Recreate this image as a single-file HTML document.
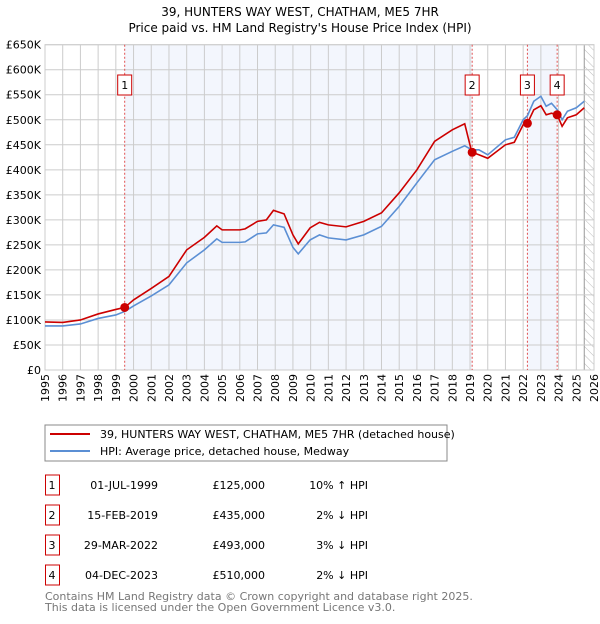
<!DOCTYPE html>
<html><head><meta charset="utf-8"><style>
body{margin:0;background:#fff;font-family:"DejaVu Sans","Liberation Sans",sans-serif;}
svg text{font-family:"DejaVu Sans","Liberation Sans",sans-serif;}
</style></head><body>
<svg id="c" width="600" height="620" xmlns="http://www.w3.org/2000/svg">
<text x="300" y="16" font-size="12" text-anchor="middle">39, HUNTERS WAY WEST, CHATHAM, ME5 7HR</text>
<text x="300" y="32" font-size="12" text-anchor="middle">Price paid vs. HM Land Registry's House Price Index (HPI)</text>
<defs><pattern id="hatch" width="6" height="6" patternUnits="userSpaceOnUse" patternTransform="rotate(-45)"><line x1="0" y1="0" x2="0" y2="6" stroke="#bbb" stroke-width="1"/></pattern></defs>
<g id="plot"></g>
<rect x="45" y="425" width="402" height="36" fill="#fff" stroke="#888"/>
<line x1="50" y1="434" x2="90" y2="434" stroke="#cc0000" stroke-width="2"/>
<text x="100" y="438" font-size="11">39, HUNTERS WAY WEST, CHATHAM, ME5 7HR (detached house)</text>
<line x1="50" y1="451" x2="90" y2="451" stroke="#5b8fd4" stroke-width="2"/>
<text x="100" y="455" font-size="11">HPI: Average price, detached house, Medway</text>
<g id="table" font-size="11"></g>
<text x="45" y="600" font-size="11" fill="#777">Contains HM Land Registry data © Crown copyright and database right 2025.</text>
<text x="45" y="611" font-size="11" fill="#777">This data is licensed under the Open Government Licence v3.0.</text>
</svg>
<script>
const years=[1995,1996,1997,1998,1999,1999.5,2000,2001,2002,2003,2004,2004.7,2005,2006,2006.3,2007,2007.5,2007.9,2008.5,2009,2009.3,2009.97,2010.5,2011,2012,2013,2014,2015,2016,2017,2018,2018.7,2019.1,2019.5,2020,2021,2021.5,2022,2022.24,2022.6,2023,2023.3,2023.6,2023.92,2024.2,2024.5,2025,2025.45];
const hpi=[88,88,92,103,110,117,128,148,170,214,240,262,255,255,256,272,274,290,285,245,232,260,270,264,260,270,287,327,374,420,437,448,440,440,430,460,465,500,508,537,547,527,533,520,500,517,524,537];
const price=[96,95,100,112,121,125,140,163,187,240,265,288,280,280,282,297,300,319,312,270,252,284,295,290,286,297,314,354,400,457,480,492,435,430,423,450,455,490,493,520,528,510,513,510,487,504,510,524];
const yTicks=[0,50,100,150,200,250,300,350,400,450,500,550,600,650];
const yLabels=["£0","£50K","£100K","£150K","£200K","£250K","£300K","£350K","£400K","£450K","£500K","£550K","£600K","£650K"];
const xTicks=[1995,1996,1997,1998,1999,2000,2001,2002,2003,2004,2005,2006,2007,2008,2009,2010,2011,2012,2013,2014,2015,2016,2017,2018,2019,2020,2021,2022,2023,2024,2025,2026];
const saleIds=["1","2","3","4"];
const saleYears=[1999.5,2019.12,2022.24,2023.92];
const salePrices=[125,435,493,510];
const saleDates=["01-JUL-1999","15-FEB-2019","29-MAR-2022","04-DEC-2023"];
const salePriceLabels=["£125,000","£435,000","£493,000","£510,000"];
const saleHpi=["10% ↑ HPI","2% ↓ HPI","3% ↓ HPI","2% ↓ HPI"];
const x0=45,x1=594,yTop=44.7,yBot=370;
const X=v=>x0+(v-1995)/(2026-1995)*(x1-x0);
const Y=v=>yBot-v/650*(yBot-yTop);
const NS="http://www.w3.org/2000/svg";
const g=document.getElementById('plot');
function mk(tag,attrs,parent){const e=document.createElementNS(NS,tag);for(const k in attrs)e.setAttribute(k,attrs[k]);(parent||g).appendChild(e);return e;}
let e;
e=mk('rect',{x:X(saleYears[0]),y:yTop,width:X(saleYears[1])-X(saleYears[0]),height:yBot-yTop,fill:'#eef2fc',opacity:0.7});


e=mk('rect',{x:X(saleYears[2]),y:yTop,width:X(saleYears[3])-X(saleYears[2]),height:yBot-yTop,fill:'#eef2fc',opacity:0.7});


e=mk('rect',{x:X(2025.45),y:yTop,width:x1-X(2025.45),height:yBot-yTop,fill:'url(#hatch)'});


mk('line',{x1:X(2025.45),y1:yTop,x2:X(2025.45),y2:yBot,stroke:'#999'});
yTicks.forEach((t,i)=>{
 e=mk('line',{x1:x0,y1:Y(t),x2:x1,y2:Y(t),stroke:'#ccc'});
 
 
 e=mk('text',{x:41,y:Y(t)+4,'font-size':11,'text-anchor':'end'});e.textContent=yLabels[i];
 
 
});
xTicks.forEach(t=>{
 e=mk('line',{x1:X(t),y1:yTop,x2:X(t),y2:yBot,stroke:'#ccc'});
 
 
 e=mk('text',{x:X(t),y:0,'font-size':11,'text-anchor':'middle',transform:`translate(0,0)`});
 e.setAttribute('x',0);e.setAttribute('y',0);
 e.setAttribute('transform',`translate(${X(t)+4},${yBot+4}) rotate(-90)`);
 e.setAttribute('text-anchor','end');
 e.textContent=t;
 
 
});
mk('rect',{x:x0,y:yTop,width:x1-x0,height:yBot-yTop,fill:'none',stroke:'#ccc'});
saleYears.forEach((s,i)=>{
 e=mk('line',{x1:X(s),y1:yTop,x2:X(s),y2:yBot,stroke:'#e05050','stroke-dasharray':'2,2'});
 
 
 e=mk('rect',{x:X(s)-7,y:75,width:14,height:20,fill:'#fff',stroke:'#cc0000'});
 
 
 e=mk('text',{x:X(s),y:89,'font-size':11,'text-anchor':'middle'});e.textContent=saleIds[i];
 
 
});
e=mk('polyline',{points:years.map((y,i)=>X(y)+','+Y(hpi[i])).join(' '),fill:'none',stroke:'#5b8fd4','stroke-width':1.6});


e=mk('polyline',{points:years.map((y,i)=>X(y)+','+Y(price[i])).join(' '),fill:'none',stroke:'#cc0000','stroke-width':1.6});


saleYears.forEach((s,i)=>{
 e=mk('circle',{cx:X(s),cy:Y(salePrices[i]),r:4.5,fill:'#cc0000'});
 
 
});
const tb=document.getElementById('table');
const rowY=[485,515,545,575];
saleIds.forEach((id,i)=>{
 const y=rowY[i];
 e=mk('rect',{x:45.5,y:y-10,width:14,height:20,fill:'#fff',stroke:'#cc0000'},tb);
 
 
 e=mk('text',{x:52,y:y+4,'text-anchor':'middle'},tb);e.textContent=id;
 
 
 e=mk('text',{x:158,y:y+4,'text-anchor':'end'},tb);e.textContent=saleDates[i];
 
 
 e=mk('text',{x:265,y:y+4,'text-anchor':'end'},tb);e.textContent=salePriceLabels[i];
 
 
 e=mk('text',{x:368,y:y+4,'text-anchor':'end'},tb);e.textContent=saleHpi[i];
 
 
});
</script>
</body></html>
